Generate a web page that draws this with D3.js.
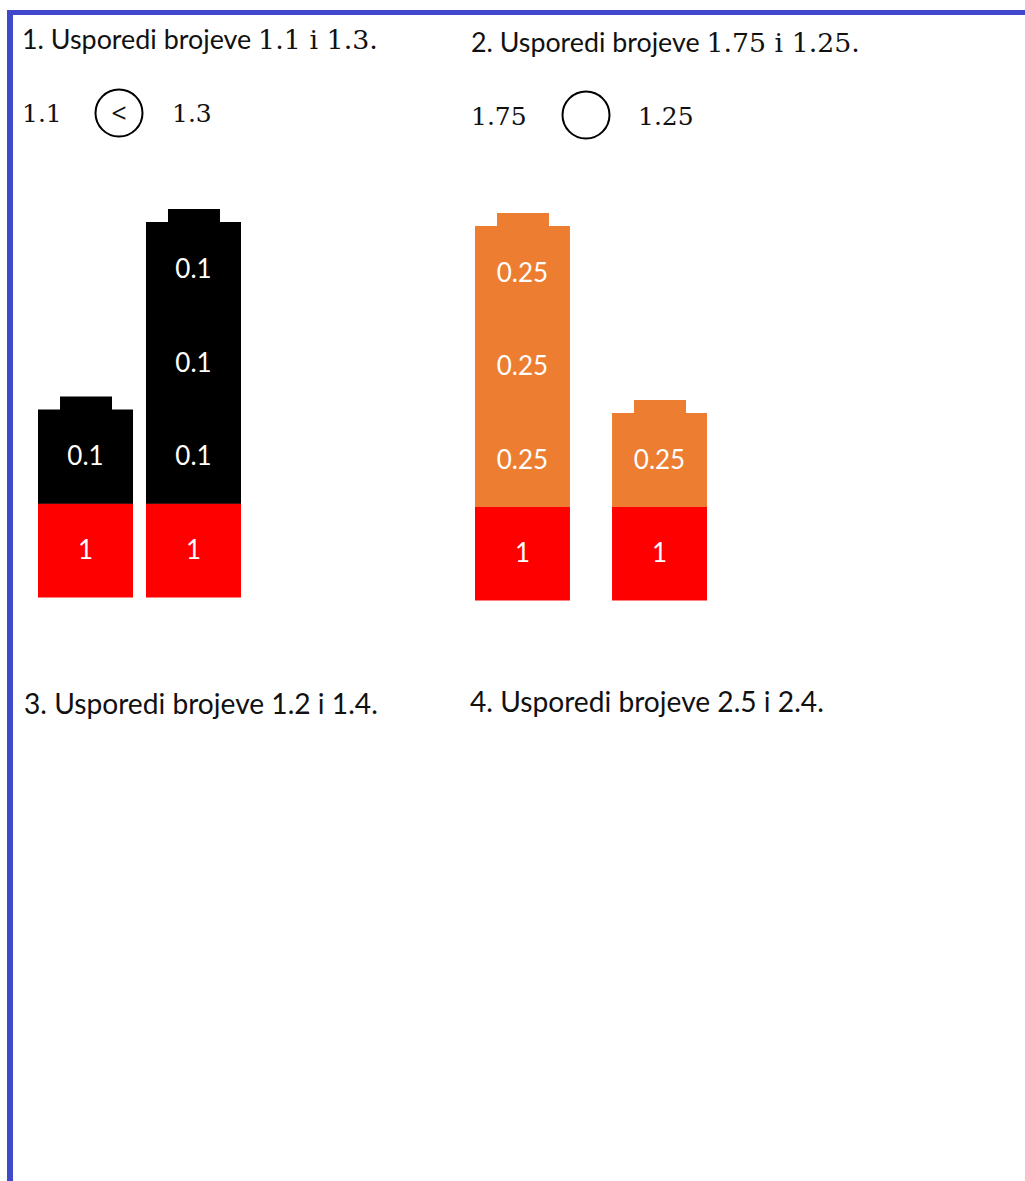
<!DOCTYPE html>
<html>
<head>
<meta charset="utf-8">
<script src="https://cdn.jsdelivr.net/npm/d3@7"></script>
<style>
  html, body { margin: 0; padding: 0; background: #fff; }
</style>
</head>
<body>
<div id="chart"></div>
<script>
// task headings: sans part + serif numbers part
const headingText = ["1. Usporedi brojeve ", "2. Usporedi brojeve ", "3. Usporedi brojeve 1.2 i 1.4.", "4. Usporedi brojeve 2.5 i 2.4."];
const headingMath = ["1.1 i 1.3.", "1.75 i 1.25.", "", ""];

// comparison rows
const leftNumbers = ["1.1", "1.75"];
const rightNumbers = ["1.3", "1.25"];
const signs = ["<", ""];

// batteries: panel, whole part, piece value, number of pieces, piece colour
const batteryPanel = [0, 0, 1, 1];
const batteryWhole = [1, 1, 1, 1];
const pieceValue = [0.1, 0.1, 0.25, 0.25];
const pieceCount = [1, 3, 3, 1];
const pieceColor = ["#000000", "#000000", "#ED7D31", "#ED7D31"];
const wholeColor = "#FF0000";

const width = 1025, height = 1181;
const sansFont = "Lato, 'Open Sans', sans-serif";
const serifFont = "'DejaVu Serif', 'Liberation Serif', serif";

const svg = d3.select("#chart").append("svg")
  .attr("width", width)
  .attr("height", height);

svg.append("rect").attr("width", width).attr("height", height).attr("fill", "#fff");

// page frame (left + top blue lines)
svg.append("rect").attr("x", 7).attr("y", 10).attr("width", 6).attr("height", height - 10).attr("fill", "#4049CC");
svg.append("rect").attr("x", 7).attr("y", 10).attr("width", width - 7).attr("height", 5).attr("fill", "#4049CC");

// headings
const headPos = [[22, 49], [471, 52], [24, 714], [470, 712]];
const headWidth = [356, 389, 354, 354];

headingText.forEach((t, i) => {
  const txt = svg.append("text")
    .attr("x", headPos[i][0])
    .attr("y", headPos[i][1])
    .attr("fill", "#111")
    .style("font-family", sansFont)
    .style("font-size", "24px");
  txt.append("tspan").text(t);
  if (headingMath[i]) {
    txt.append("tspan").style("font-family", serifFont).text(headingMath[i]);
  }
  // scale font so the line is as wide as in the picture
  const w = txt.node().getComputedTextLength();
  txt.style("font-size", (24 * headWidth[i] / w) + "px");
});

// comparison rows
const rowY = [122, 125];
const rowX = [[22, 119, 172], [471, 586, 638]];
const circY = [113, 115];

leftNumbers.forEach((n, i) => {
  const g = svg.append("g");
  g.append("text").attr("x", rowX[i][0]).attr("y", rowY[i])
    .style("font-family", serifFont).style("font-size", "25px").attr("fill", "#111")
    .text(n);
  g.append("circle").attr("cx", rowX[i][1]).attr("cy", circY[i]).attr("r", 23.5)
    .attr("fill", "none").attr("stroke", "#000").attr("stroke-width", 2);
  g.append("text").attr("x", rowX[i][1]).attr("y", circY[i]).attr("dy", "0.36em")
    .attr("text-anchor", "middle")
    .style("font-family", "'Open Sans', sans-serif").style("font-size", "27px").attr("fill", "#111")
    .text(signs[i]);
  g.append("text").attr("x", rowX[i][2]).attr("y", rowY[i])
    .style("font-family", serifFont).style("font-size", "25px").attr("fill", "#111")
    .text(rightNumbers[i]);
});

// battery scales per panel
const xScales = [
  d3.scaleBand().domain([0, 1]).range([38, 241]).paddingInner(0.12),
  d3.scaleBand().domain([2, 3]).range([475, 707]).paddingInner(0.307)
];
const yScales = [
  d3.scaleLinear().domain([0, 4]).range([597, 222]),
  d3.scaleLinear().domain([0, 4]).range([600, 226])
];

const batteries = batteryPanel.map((p, i) => ({
  id: i, panel: p, whole: batteryWhole[i], value: pieceValue[i], count: pieceCount[i], color: pieceColor[i]
}));

const bGroups = svg.selectAll(".battery")
  .data(batteries)
  .enter().append("g")
  .attr("class", "battery");

// blocks: whole at index 0, pieces at 1..count
bGroups.each(function (d) {
  const g = d3.select(this);
  const x = xScales[d.panel], y = yScales[d.panel];
  const blocks = [{ k: 0, label: String(d.whole), fill: wholeColor }]
    .concat(d3.range(d.count).map(k => ({ k: k + 1, label: String(d.value), fill: d.color })));

  // cap on top
  const bw = x.bandwidth();
  const capW = 52, capH = 13;
  g.append("rect")
    .attr("x", x(d.id) + (bw - capW) / 2 + 0.5)
    .attr("y", y(d.count + 1) - capH)
    .attr("width", capW)
    .attr("height", capH + 1)
    .attr("fill", d.color);

  g.selectAll(".block")
    .data(blocks)
    .enter().append("rect")
    .attr("class", "block")
    .attr("x", x(d.id))
    .attr("y", b => y(b.k + 1))
    .attr("width", bw)
    .attr("height", b => y(b.k) - y(b.k + 1) + 0.5)
    .attr("fill", b => b.fill);

  g.selectAll(".lbl")
    .data(blocks)
    .enter().append("text")
    .attr("class", "lbl")
    .attr("x", x(d.id) + bw / 2)
    .attr("y", b => (y(b.k) + y(b.k + 1)) / 2)
    .attr("dy", "0.35em")
    .attr("text-anchor", "middle")
    .attr("fill", "#fff")
    .style("font-family", sansFont)
    .style("font-size", "26px")
    .text(b => b.label);
});
</script>
</body>
</html>
